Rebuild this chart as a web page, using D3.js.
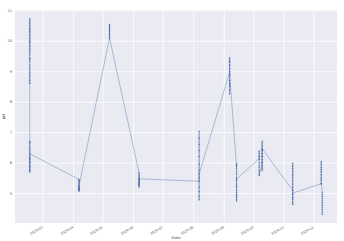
<!DOCTYPE html>
<html>
<head>
<meta charset="utf-8">
<script src="https://cdn.jsdelivr.net/npm/d3@7"></script>
<style>
  body { margin: 0; background: #fff; }
  .axis text { font-family: "DejaVu Sans", sans-serif; fill: #555; }
  .label { font-family: "DejaVu Sans", sans-serif; fill: #444; }
</style>
</head>
<body>
<div class="svg-container"></div>
<script>
// sampling dates (one column of readings each)
const dates = ["2020-02-17", "2020-04-07", "2020-05-08", "2020-06-07", "2020-08-07",
  "2020-09-07", "2020-09-14", "2020-10-07", "2020-10-10", "2020-11-10", "2020-12-09", "2020-12-10"];

// pH readings per date, in the order they were recorded
const phValues = [
  [10.72, 10.68, 10.63, 10.58, 10.55, 10.5, 10.45, 10.41, 10.38, 10.33, 10.3, 10.26, 10.22, 10.17, 10.12, 10.08, 10.02, 9.98,
   9.95, 9.9, 9.85, 9.81, 9.76, 9.72, 9.66, 9.6, 9.53, 9.45, 9.41, 9.38, 9.3, 9.2, 9.12, 9.05, 8.98, 8.95, 8.88, 8.82, 8.75, 8.7, 8.64, 8.6,
   6.7, 6.66, 6.62, 6.56, 6.5, 6.45, 6.41, 6.35, 6.28, 6.2, 6.15, 6.1, 6.05, 6.02, 5.96, 5.9, 5.85, 5.8, 5.74, 5.69, 5.75, 5.88, 6.0, 6.14, 6.29],
  [5.45, 5.41, 5.38, 5.34, 5.3, 5.25, 5.2, 5.16, 5.12, 5.09, 5.07, 5.11, 5.15, 5.19, 5.24],
  [10.09, 10.14, 10.2, 10.26, 10.32, 10.38, 10.45, 10.49, 10.53, 10.47, 10.4, 10.3, 10.21, 10.09],
  [5.67, 5.63, 5.58, 5.54, 5.5, 5.44, 5.38, 5.33, 5.3, 5.25, 5.2, 5.28, 5.35, 5.42, 5.47],
  [5.39, 7.03, 6.8, 6.6, 6.4, 6.2, 5.95, 5.75, 5.5, 5.2, 5.05, 4.9, 4.78, 5.63],
  [8.97, 9.08, 9.2, 9.32, 9.44, 9.37, 9.3, 9.2, 9.1, 9.0, 8.88, 8.7, 8.6, 8.5, 8.38, 8.26, 8.55, 8.9],
  [5.87, 5.97, 5.9, 5.8, 5.7, 5.62, 5.5, 5.41, 5.3, 5.22, 5.1, 5.02, 4.95, 4.88, 4.8, 4.74, 4.9, 5.2, 5.47],
  [6.13, 6.22, 6.38, 6.3, 6.2, 6.1, 6.0, 5.92, 5.85, 5.76, 5.7, 5.63, 5.58],
  [6.0, 6.2, 6.4, 6.7, 6.62, 6.55, 6.42, 6.3, 6.2, 6.1, 6.0, 5.9, 5.82, 5.74, 6.46],
  [5.09, 5.97, 5.88, 5.8, 5.7, 5.6, 5.5, 5.4, 5.3, 5.2, 5.08, 4.95, 4.86, 4.8, 4.7, 4.63, 5.0],
  [5.31, 6.04, 5.95, 5.85, 5.78, 5.7, 5.6, 5.5, 5.42, 5.31],
  [5.03, 4.96, 4.9, 4.82, 4.75, 4.68, 4.6, 4.52, 4.45, 4.37, 4.3]
];

const yTicks = [5, 6, 7, 8, 9, 10, 11];
const xTicks = ["2020-03-01", "2020-04-01", "2020-05-01", "2020-06-01", "2020-07-01",
  "2020-08-01", "2020-09-01", "2020-10-01", "2020-11-01", "2020-12-01"];

const parseDate = d3.timeParse("%Y-%m-%d");

const readings = [];
dates.forEach((d, i) => {
  phValues[i].forEach(v => readings.push({ date: parseDate(d), ph: v }));
});

const W = 344, H = 241;
const margin = { top: 10, right: 7, bottom: 18, left: 15 };
const width = W - margin.left - margin.right;
const height = H - margin.top - margin.bottom;

const xScale = d3.scaleTime()
  .domain([parseDate("2020-02-02"), parseDate("2020-12-25")])
  .range([0, width]);

const yScale = d3.scaleLinear()
  .domain([4.02, 11.01])
  .range([height, 0]);

const svg = d3.select('.svg-container')
  .append('svg')
  .attr('width', W)
  .attr('height', H)
  .append('g')
  .attr('transform', `translate(${margin.left}, ${margin.top})`);

// seaborn darkgrid background
svg.append('rect')
  .attr('width', width)
  .attr('height', height)
  .attr('fill', '#eaeaf2');

// grid + axes
const xAxis = d3.axisBottom(xScale)
  .tickValues(xTicks.map(parseDate))
  .tickFormat(d3.timeFormat('%Y-%m'))
  .tickSize(-height)
  .tickPadding(3);

const xAxisDraw = svg.append('g')
  .attr('class', 'x axis')
  .attr('transform', `translate(0, ${height})`)
  .call(xAxis);

xAxisDraw.selectAll('text')
  .attr('font-size', 3.4)
  .attr('text-anchor', 'end')
  .attr('dy', 0)
  .attr('transform', 'translate(0, 5) rotate(-30)')
  .attr('y', 0)
  .attr('x', 0);

const yAxis = d3.axisLeft(yScale)
  .tickValues(yTicks)
  .tickFormat(d3.format('d'))
  .tickSize(-width)
  .tickPadding(3);

const yAxisDraw = svg.append('g')
  .attr('class', 'y axis')
  .call(yAxis);

yAxisDraw.selectAll('text').attr('font-size', 3.6);

svg.selectAll('.axis .domain').remove();
svg.selectAll('.axis line')
  .attr('stroke', '#fff')
  .attr('stroke-width', 0.8);

// line through every reading, in order
const line = d3.line()
  .x(d => xScale(d.date))
  .y(d => yScale(d.ph));

svg.append('path')
  .datum(readings)
  .attr('fill', 'none')
  .attr('stroke', '#4c72b0')
  .attr('stroke-opacity', 0.7)
  .attr('stroke-width', 0.6)
  .attr('d', line);

svg.selectAll('.dot')
  .data(readings)
  .enter()
  .append('circle')
  .attr('class', 'dot')
  .attr('cx', d => xScale(d.date))
  .attr('cy', d => yScale(d.ph))
  .attr('r', 0.55)
  .attr('fill', '#4c72b0')
  .attr('stroke', '#3a5a94')
  .attr('stroke-width', 0.2);

// axis labels
svg.append('text')
  .attr('class', 'label')
  .attr('x', width / 2)
  .attr('y', height + 15.5)
  .attr('text-anchor', 'middle')
  .attr('font-size', 3.8)
  .text('Date');

svg.append('text')
  .attr('class', 'label')
  .attr('transform', `translate(${-10}, ${height / 2}) rotate(-90)`)
  .attr('text-anchor', 'middle')
  .attr('font-size', 3.8)
  .text('pH');
</script>
</body>
</html>
